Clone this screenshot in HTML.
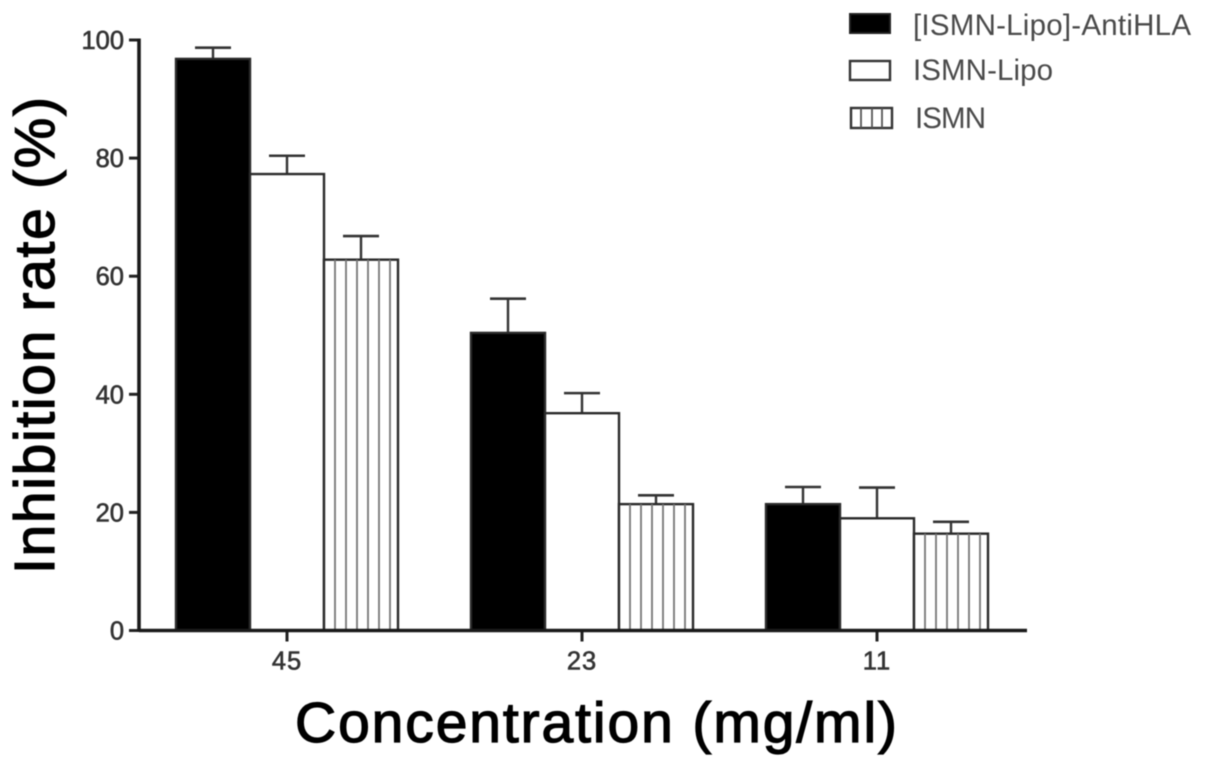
<!DOCTYPE html>
<html lang="en">
<head>
<meta charset="utf-8">
<title>Inhibition rate chart</title>
<style>
html,body{margin:0;padding:0;background:#fff;width:1205px;height:767px;overflow:hidden}
svg{display:block;filter:blur(0.6px)}
text{font-family:"Liberation Sans",sans-serif}
.tick{font-size:25.5px;fill:#333;stroke:#333;stroke-width:.6px}
.title{font-size:57px;fill:#000;stroke:#000;stroke-width:1.25px}
.leg{font-size:29.5px;fill:#4a4a4a}
</style>
</head>
<body>
<svg id="chart" xmlns="http://www.w3.org/2000/svg" width="1205" height="767" viewBox="0 0 1205 767">
  <g id="bars"></g>
  <g id="axes"></g>
  <text class="title" x="295" y="742" textLength="602" lengthAdjust="spacing">Concentration (mg/ml)</text>
  <text class="title" transform="translate(54 574) rotate(-90)" textLength="477" lengthAdjust="spacing">Inhibition rate (%)</text>
  <g>
    <g>
      <rect x="850" y="14" width="40" height="19" fill="#000" stroke="#222" stroke-width="2"/>
      <text class="leg" x="913" y="35" textLength="278" lengthAdjust="spacing">[ISMN-Lipo]-AntiHLA</text>
    </g>
    <g>
      <rect x="850" y="61" width="40" height="19" fill="#fff" stroke="#333" stroke-width="2.4"/>
      <text class="leg" x="913" y="80" textLength="140" lengthAdjust="spacing">ISMN-Lipo</text>
    </g>
    <g>
      <rect x="851" y="108" width="41" height="20" fill="#fff" stroke="#333" stroke-width="2.4"/>
      <path d="M861 108V128M872 108V128M882 108V128" stroke="#555" stroke-width="1.8" fill="none"/>
      <text class="leg" x="915" y="128" textLength="71" lengthAdjust="spacing">ISMN</text>
    </g>
  </g>
</svg>
<script>
const categories = ['45', '23', '11'];
const seriesNames = ['antihla', 'ismn-lipo', 'ismn'];
const antihlaValues = [96.8, 50.4, 21.4];
const ismnLipoValues = [77.3, 36.8, 19.0];
const ismnValues = [62.8, 21.4, 16.4];
const antihlaErrors = [1.9, 5.8, 2.9];
const ismnLipoErrors = [3.1, 3.4, 5.2];
const ismnErrors = [4.0, 1.5, 2.0];
const yTickLabels = [0, 20, 40, 60, 80, 100];

const allValues = [antihlaValues, ismnLipoValues, ismnValues];
const allErrors = [antihlaErrors, ismnLipoErrors, ismnErrors];
const NS = 'http://www.w3.org/2000/svg';
const plotLeft = 139, plotRight = 1027, plotBottom = 630.5, plotTop = 40;
const barW = 74, firstCenter = 287, groupStep = 295, capW = 36, hatchStep = 11;

function yScale(v) { return plotBottom - (v / 100) * (plotBottom - plotTop); }
function groupCenter(g) { return firstCenter + g * groupStep; }
function barLeft(g, s) { return groupCenter(g) - barW * 1.5 + s * barW; }
function make(tag, attrs, parent) {
  const el = document.createElementNS(NS, tag);
  for (const k in attrs) el.setAttribute(k, attrs[k]);
  parent.appendChild(el);
  return el;
}

const barsG = document.getElementById('bars');
const axesG = document.getElementById('axes');

categories.forEach(function (cat, g) {
  seriesNames.forEach(function (name, s) {
    const v = allValues[s][g];
    const e = allErrors[s][g];
    const x = barLeft(g, s);
    const yTop = yScale(v);
    const yErr = yScale(v + e);
    const cx = x + barW / 2;

    const stem = make('line', { x1: cx, x2: cx, y1: yTop, y2: yErr, stroke: '#333', 'stroke-width': 2.4 }, barsG);
    
    

    const cap = make('line', { x1: cx - capW / 2, x2: cx + capW / 2, y1: yErr, y2: yErr, stroke: '#333', 'stroke-width': 2.6 }, barsG);
    
    

    const rect = make('rect', {
      x: x, y: yTop, width: barW, height: plotBottom - yTop,
      fill: s === 0 ? '#000' : '#fff', stroke: '#2a2a2a', 'stroke-width': 2.4
    }, barsG);
    
    

    if (s === 2) {
      for (let hx = x + hatchStep; hx < x + barW - 2; hx += hatchStep) {
        const hatch = make('line', { x1: hx, x2: hx, y1: yTop, y2: plotBottom, stroke: '#777', 'stroke-width': 1.8 }, barsG);
        
        
      }
    }
  });

  const cx = groupCenter(g);
  const tick = make('line', { x1: cx, x2: cx, y1: plotBottom, y2: plotBottom + 11, stroke: '#222', 'stroke-width': 3 }, axesG);
  
  

  const label = make('text', { x: cx, y: plotBottom + 39, 'text-anchor': 'middle', class: 'tick', 'letter-spacing': 1 }, axesG);
  
  
  label.textContent = cat;
});

yTickLabels.forEach(function (t) {
  const y = yScale(t);
  const tick = make('line', { x1: plotLeft - 10, x2: plotLeft, y1: y, y2: y, stroke: '#222', 'stroke-width': 3 }, axesG);
  
  

  const label = make('text', { x: plotLeft - 15, y: y + 9, 'text-anchor': 'end', class: 'tick' }, axesG);
  
  
  label.textContent = t;
});

const yAxis = make('line', { x1: plotLeft, x2: plotLeft, y1: plotTop - 1.5, y2: plotBottom + 1.5, stroke: '#1a1a1a', 'stroke-width': 3.6 }, axesG);



const xAxis = make('line', { x1: plotLeft, x2: plotRight, y1: plotBottom, y2: plotBottom, stroke: '#1a1a1a', 'stroke-width': 3.6 }, axesG);


</script>
</body>
</html>
